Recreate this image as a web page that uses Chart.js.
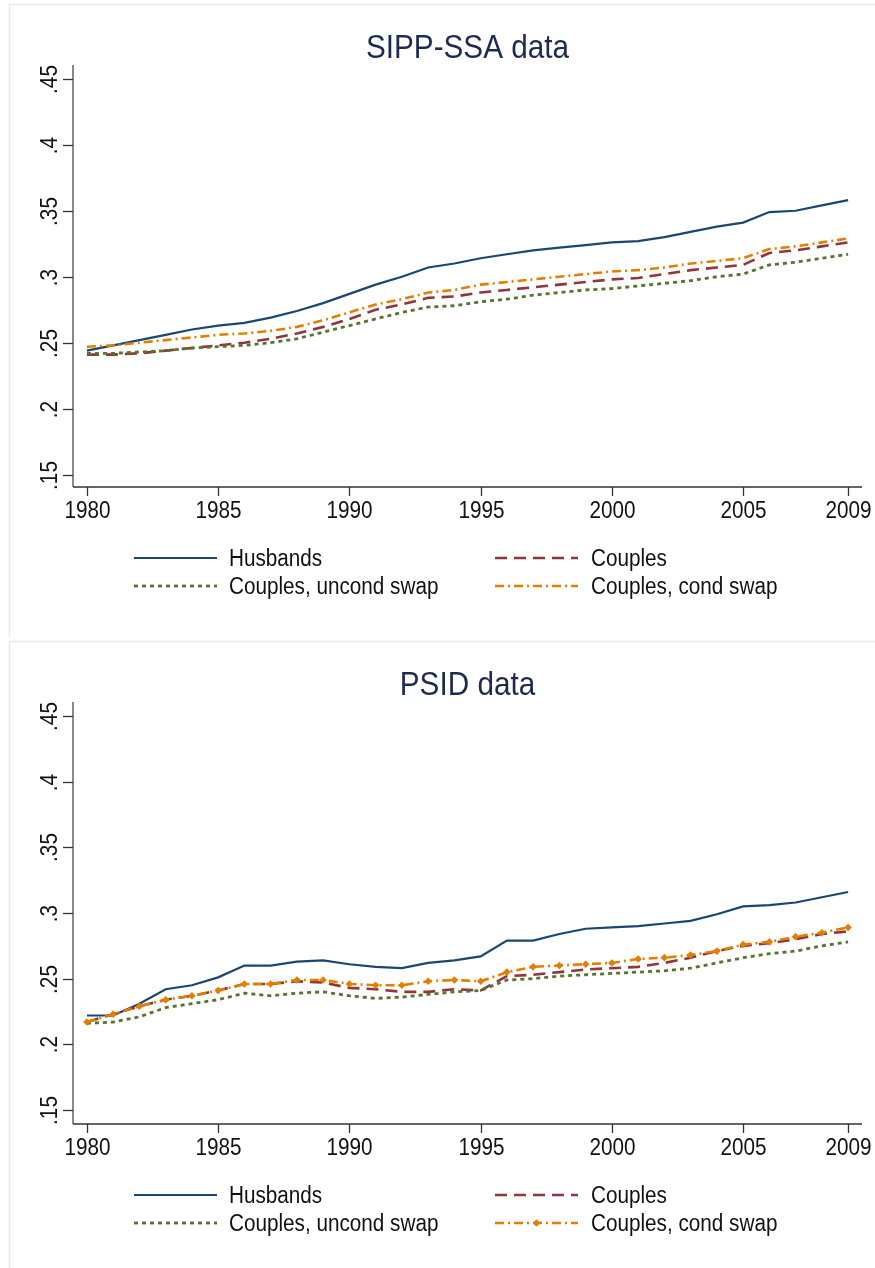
<!DOCTYPE html>
<html>
<head>
<meta charset="utf-8">
<script src="https://cdn.jsdelivr.net/npm/chart.js@4.4.1/dist/chart.umd.min.js"></script>
<style>
  html, body { margin: 0; padding: 0; background: #ffffff; }
  canvas { display: block; }
</style>
</head>
<body>
<canvas id="top" width="875" height="640" style="width:875px;height:640px"></canvas>
<canvas id="bottom" width="875" height="628" style="width:875px;height:628px"></canvas>
<script>
// ---------------- DATA ----------------
const years = [1980,1981,1982,1983,1984,1985,1986,1987,1988,1989,1990,1991,1992,1993,1994,1995,1996,1997,1998,1999,2000,2001,2002,2003,2004,2005,2006,2007,2008,2009];

const seriesLabels = ["Husbands", "Couples", "Couples, uncond swap", "Couples, cond swap"];

// SIPP-SSA panel
const sippHusbands = [0.244,0.248,0.252,0.256,0.260,0.263,0.265,0.269,0.274,0.280,0.287,0.294,0.300,0.307,0.310,0.314,0.317,0.320,0.322,0.324,0.326,0.327,0.330,0.334,0.338,0.341,0.349,0.350,0.354,0.358];
const sippCouples  = [0.241,0.241,0.242,0.244,0.246,0.248,0.250,0.253,0.257,0.262,0.268,0.275,0.279,0.284,0.285,0.288,0.290,0.292,0.294,0.296,0.298,0.299,0.302,0.305,0.307,0.309,0.318,0.320,0.323,0.326];
const sippUncond   = [0.242,0.242,0.243,0.244,0.246,0.247,0.248,0.250,0.253,0.258,0.263,0.268,0.273,0.277,0.278,0.281,0.283,0.286,0.288,0.290,0.291,0.293,0.295,0.297,0.300,0.302,0.309,0.311,0.314,0.317];
const sippCond     = [0.247,0.248,0.250,0.252,0.254,0.256,0.257,0.259,0.262,0.267,0.273,0.279,0.283,0.288,0.290,0.294,0.296,0.298,0.300,0.302,0.304,0.305,0.307,0.310,0.312,0.314,0.321,0.323,0.326,0.329];

// PSID panel
const psidHusbands = [0.222,0.222,0.231,0.242,0.245,0.251,0.260,0.260,0.263,0.264,0.261,0.259,0.258,0.262,0.264,0.267,0.279,0.279,0.284,0.288,0.289,0.290,0.292,0.294,0.299,0.305,0.306,0.308,0.312,0.316];
const psidCouples  = [0.217,0.223,0.229,0.234,0.237,0.241,0.246,0.246,0.248,0.247,0.243,0.242,0.240,0.240,0.242,0.241,0.252,0.253,0.255,0.257,0.258,0.259,0.262,0.266,0.271,0.275,0.277,0.280,0.284,0.286];
const psidUncond   = [0.216,0.217,0.221,0.228,0.231,0.234,0.239,0.237,0.239,0.240,0.237,0.235,0.236,0.238,0.240,0.241,0.249,0.250,0.252,0.253,0.254,0.255,0.256,0.258,0.262,0.266,0.269,0.271,0.275,0.278];
const psidCond     = [0.217,0.223,0.229,0.234,0.237,0.241,0.246,0.246,0.249,0.249,0.246,0.245,0.245,0.248,0.249,0.248,0.255,0.259,0.260,0.261,0.262,0.265,0.266,0.268,0.271,0.276,0.278,0.282,0.285,0.289];

const xTicks = [1980,1985,1990,1995,2000,2005,2009];
const yTicks = [0.15,0.20,0.25,0.30,0.35,0.40,0.45];
const yTickLabels = [".15",".2",".25",".3",".35",".4",".45"];

// ---------------- STYLE ----------------
const FONT = '"Liberation Sans", Arial, Helvetica, sans-serif';
const styles = [
  { color: "#1a476f", dash: [],          width: 2.2 },
  { color: "#90353b", dash: [12, 7],     width: 2.6 },
  { color: "#55752f", dash: [4, 4],      width: 2.8 },
  { color: "#e37e00", dash: [9, 4, 2, 4],width: 2.6 }
];

function txt(ctx, s, x, y, size, align, color, rot) {
  ctx.save();
  ctx.translate(x, y);
  if (rot) ctx.rotate(rot);
  ctx.scale(0.9, 1);
  ctx.font = size + "px " + FONT;
  ctx.textAlign = align;
  ctx.textBaseline = "alphabetic";
  ctx.fillStyle = color;
  ctx.fillText(s, 0, 0);
  ctx.restore();
}

const stataPlugin = {
  id: "stata",
  beforeDraw(chart) {
    const ctx = chart.ctx;
    const o = chart.options.plugins.stata;
    ctx.save();
    ctx.fillStyle = "#ffffff";
    ctx.fillRect(0, 0, chart.width, chart.height);
    ctx.strokeStyle = "#e2eaed";
    ctx.lineWidth = 1.5;
    ctx.beginPath();
    ctx.moveTo(9, o.borderTop); ctx.lineTo(chart.width, o.borderTop);
    ctx.moveTo(9.5, o.borderTop); ctx.lineTo(9.5, o.borderBottom);
    ctx.stroke();
    ctx.restore();
  },
  afterDraw(chart) {
    const ctx = chart.ctx;
    const o = chart.options.plugins.stata;
    const xs = chart.scales.x, ys = chart.scales.y;
    const a = chart.chartArea;
    ctx.save();
    // title
    txt(ctx, o.title, (a.left + a.right) / 2, a.top - 7, 33, "center", "#1c2b4f");
    // y axis
    ctx.strokeStyle = "#8a8a8a";
    ctx.lineWidth = 2;
    ctx.beginPath(); ctx.moveTo(a.left, a.top); ctx.lineTo(a.left, a.bottom); ctx.stroke();
    ctx.strokeStyle = "#333333";
    ctx.lineWidth = 1.3;
    yTicks.forEach((v, i) => {
      const py = Math.round(ys.getPixelForValue(v)) + 0.5;
      ctx.beginPath(); ctx.moveTo(a.left - 10, py); ctx.lineTo(a.left, py); ctx.stroke();
      txt(ctx, yTickLabels[i], a.left - 16, py, 23, "center", "#111111", -Math.PI / 2);
    });
    // x axis
    ctx.strokeStyle = "#333333";
    ctx.lineWidth = 1.6;
    ctx.beginPath(); ctx.moveTo(a.left, a.bottom); ctx.lineTo(a.right, a.bottom); ctx.stroke();
    ctx.lineWidth = 1.3;
    xTicks.forEach(v => {
      const px = Math.round(xs.getPixelForValue(v)) + 0.5;
      ctx.beginPath(); ctx.moveTo(px, a.bottom); ctx.lineTo(px, a.bottom + 9); ctx.stroke();
      txt(ctx, String(v), px, a.bottom + 31, 23, "center", "#111111");
    });
    // legend
    const cols = [{ x0: 134, x1: 217, tx: 229 }, { x0: 495, x1: 578, tx: 591 }];
    const rows = [a.bottom + 79, a.bottom + 107];
    chart.data.datasets.forEach((ds, i) => {
      const c = cols[i % 2], base = rows[Math.floor(i / 2)];
      const ly = base - 8;
      ctx.save();
      ctx.strokeStyle = ds.borderColor;
      ctx.lineWidth = ds.borderWidth;
      ctx.setLineDash(ds.borderDash || []);
      ctx.beginPath(); ctx.moveTo(c.x0, ly); ctx.lineTo(c.x1, ly); ctx.stroke();
      ctx.restore();
      if (ds.pointRadius > 0) {
        const mx = (c.x0 + c.x1) / 2, r = ds.pointRadius;
        ctx.save();
        ctx.fillStyle = ds.pointBackgroundColor;
        ctx.beginPath();
        ctx.moveTo(mx, ly - r); ctx.lineTo(mx + r, ly); ctx.lineTo(mx, ly + r); ctx.lineTo(mx - r, ly);
        ctx.closePath(); ctx.fill();
        ctx.restore();
      }
      txt(ctx, ds.label, c.tx, base, 23, "left", "#111111");
    });
    ctx.restore();
  }
};

function makeDatasets(arrays, markers) {
  return arrays.map((arr, i) => ({
    label: seriesLabels[i],
    data: years.map((yr, k) => ({ x: yr, y: arr[k] })),
    borderColor: styles[i].color,
    borderWidth: styles[i].width,
    borderDash: styles[i].dash,
    borderCapStyle: "butt",
    tension: 0,
    fill: false,
    pointRadius: (markers && i === 3) ? 3.8 : 0,
    pointStyle: "rectRot",
    pointBackgroundColor: styles[i].color,
    pointBorderColor: styles[i].color,
    pointBorderWidth: 0,
    order: 3 - i
  }));
}

function makeChart(id, title, arrays, markers, pad, yMin, yMax, borderTop, borderBottom) {
  return new Chart(document.getElementById(id), {
    type: "line",
    data: { datasets: makeDatasets(arrays, markers) },
    options: {
      responsive: false,
      animation: false,
      events: [],
      layout: { padding: pad },
      scales: {
        x: { type: "linear", display: false, min: 1979.47, max: 2009.53 },
        y: { type: "linear", display: false, min: yMin, max: yMax }
      },
      plugins: {
        legend: { display: false },
        tooltip: { enabled: false },
        title: { display: false },
        stata: { title: title, borderTop: borderTop, borderBottom: borderBottom }
      }
    },
    plugins: [stataPlugin]
  });
}

makeChart("top", "SIPP-SSA data", [sippHusbands, sippCouples, sippUncond, sippCond], false,
  { left: 73, right: 13, top: 65, bottom: 153 }, 0.1407, 0.4604, 4.5, 637);
makeChart("bottom", "PSID data", [psidHusbands, psidCouples, psidUncond, psidCond], true,
  { left: 73, right: 13, top: 62, bottom: 144 }, 0.1394, 0.4606, 1.5, 628);
</script>
</body>
</html>
